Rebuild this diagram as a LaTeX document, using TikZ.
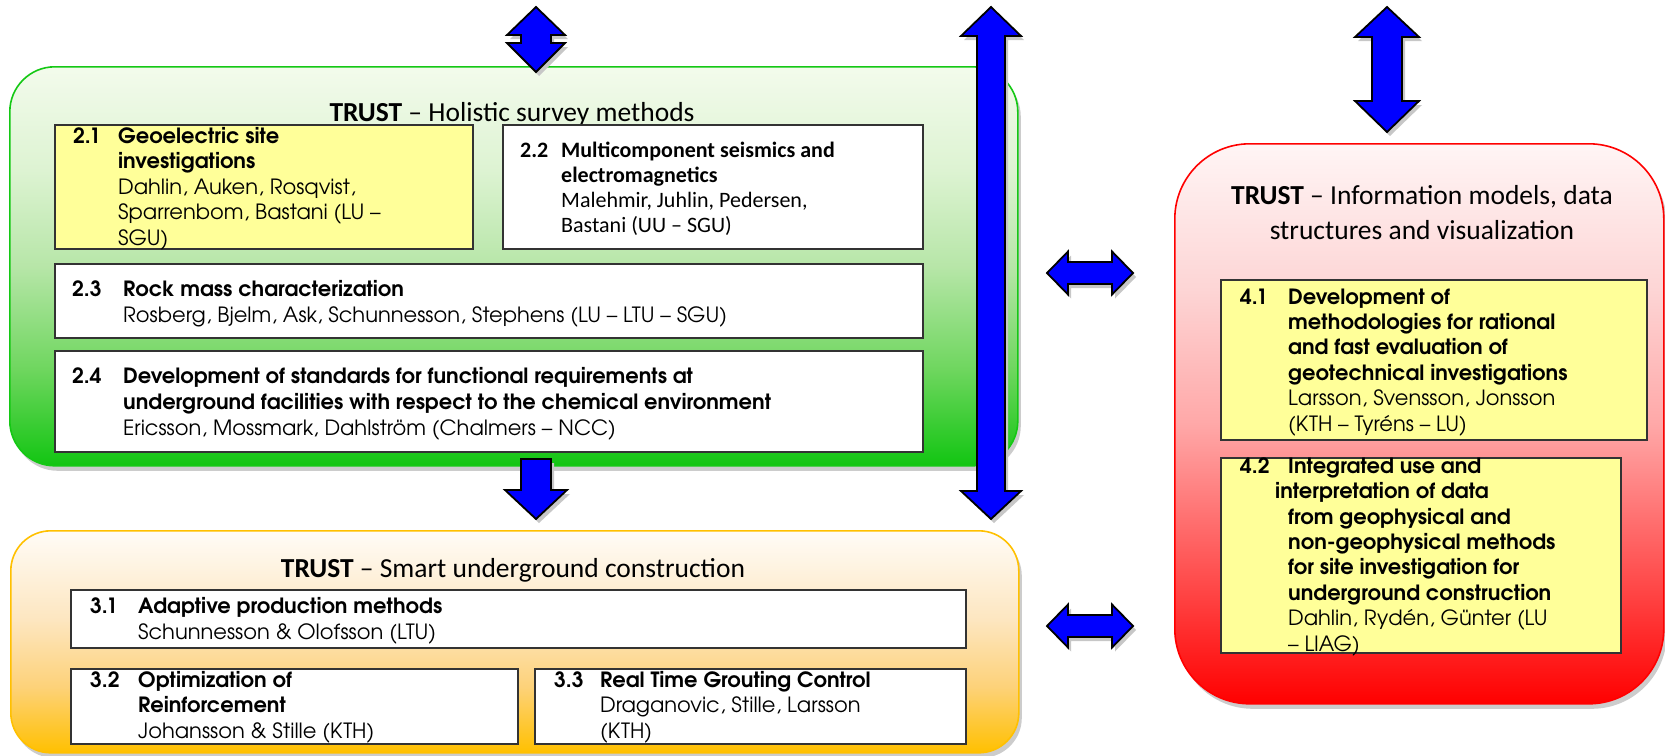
\documentclass[tikz,border=0pt]{standalone}
\usepackage{fontspec}
\usetikzlibrary{shadows}
\newfontfamily\calfont{Carlito}
\newfontfamily\gothfont{TeX Gyre Adventor}
\definecolor{arrowblue}{RGB}{0,0,255}
\definecolor{boxyellow}{RGB}{255,255,153}
\definecolor{grborder}{RGB}{20,200,20}
\definecolor{orborder}{RGB}{255,192,0}
\definecolor{rdborder}{RGB}{255,0,0}
\definecolor{gbot}{RGB}{18,197,18}
\definecolor{gm1}{RGB}{110,214,94}
\definecolor{gm2}{RGB}{183,230,168}
\definecolor{gm3}{RGB}{221,243,210}
\definecolor{gtop}{RGB}{243,251,236}
\definecolor{obot}{RGB}{255,192,0}
\definecolor{om1}{RGB}{253,210,122}
\definecolor{om2}{RGB}{253,230,192}
\definecolor{otop}{RGB}{255,252,247}
\definecolor{rbot}{RGB}{255,0,0}
\definecolor{rm1}{RGB}{255,69,69}
\definecolor{rm2}{RGB}{255,168,168}
\definecolor{rm3}{RGB}{253,213,213}
\definecolor{rtop}{RGB}{255,245,245}
\pgfdeclareverticalshading{greenshade}{100bp}{color(0bp)=(gbot); color(25bp)=(gbot); color(37bp)=(gm1); color(50bp)=(gm2); color(62bp)=(gm3); color(75bp)=(gtop); color(100bp)=(gtop)}
\pgfdeclareverticalshading{orangeshade}{100bp}{color(0bp)=(obot); color(25bp)=(obot); color(40bp)=(om1); color(55bp)=(om2); color(75bp)=(otop); color(100bp)=(otop)}
\pgfdeclareverticalshading{redshade}{100bp}{color(0bp)=(rbot); color(25bp)=(rbot); color(35bp)=(rm1); color(50bp)=(rm2); color(62bp)=(rm3); color(75bp)=(rtop); color(100bp)=(rtop)}
\tikzset{
  barrow/.style={draw=black, line width=1.8pt, fill=arrowblue, line join=miter,
    drop shadow={shadow xshift=3pt, shadow yshift=-4pt, fill=black!22, opacity=1}},
  bigbox/.style={rounded corners=#1, line width=1.6pt, anchor=north west, inner sep=0,
    drop shadow={shadow xshift=3pt, shadow yshift=-5pt, fill=black!20, opacity=1}},
  subbox/.style={draw=black!80, line width=1.6pt, inner sep=0, anchor=north west},
  num/.style={anchor=base west, inner sep=0, font=\gothfont\bfseries\fontsize{21}{26}\selectfont},
  txt/.style={anchor=base west, inner sep=0, align=left, font=\gothfont\fontsize{21}{#1}\selectfont},
  txt/.default=26,
  cnum/.style={anchor=base west, inner sep=0, font=\calfont\bfseries\fontsize{22}{25}\selectfont},
  ctxt/.style={anchor=base west, inner sep=0, align=left, font=\calfont\fontsize{22}{25}\selectfont},
  ttl/.style={anchor=base, inner sep=0, align=center, font=\calfont\fontsize{27.5}{35}\selectfont},
}
\begin{document}
\begin{tikzpicture}[x=1pt,y=-1pt]
\useasboundingbox (0,0) rectangle (1665,755);
% big containers
\node[bigbox=45pt, draw=grborder, shading=greenshade, minimum width=1008pt, minimum height=399pt] (green) at (9,66) {};
\node[bigbox=40pt, draw=orborder, shading=orangeshade, minimum width=1008pt, minimum height=222pt] (orange) at (10,530) {};
\node[bigbox=75pt, draw=rdborder, shading=redshade, minimum width=489pt, minimum height=560pt] (red) at (1174,143) {};
% titles (base = last line)
\node[ttl] (gtitle) at (512,121) {\textbf{TRUST} – Holistic survey methods};
\node[ttl] (otitle) at (513,577) {\textbf{TRUST} – Smart underground construction};
\node[ttl] (rtitle) at (1422,239) {\textbf{TRUST} – Information models, data\\structures and visualization};
% green sub boxes
\node[subbox, fill=boxyellow, minimum width=418pt, minimum height=124pt] (b21) at (54,124) {};
\node[subbox, fill=white, minimum width=420pt, minimum height=124pt] (b22) at (502,124) {};
\node[subbox, fill=white, minimum width=868pt, minimum height=74pt] (b23) at (54,263) {};
\node[subbox, fill=white, minimum width=868pt, minimum height=101pt] (b24) at (54,350) {};
\node[num] (n21) at (73,143) {2.1};
\node[txt=25.5] (t21) at (118,245) {\textbf{Geoelectric site}\\\textbf{investigations}\\Dahlin, Auken, Rosqvist,\\Sparrenbom, Bastani (LU –\\SGU)};
\node[cnum] (n22) at (520,157) {2.2};
\node[ctxt] (t22) at (561,232) {\textbf{Multicomponent seismics and}\\\textbf{electromagnetics}\\Malehmir, Juhlin, Pedersen,\\Bastani (UU – SGU)};
\node[num] (n23) at (72,296) {2.3};
\node[txt] (t23) at (123,322) {\textbf{Rock mass characterization}\\Rosberg, Bjelm, Ask, Schunnesson, Stephens (LU – LTU – SGU)};
\node[num] (n24) at (72,383) {2.4};
\node[txt] (t24) at (123,435) {\textbf{Development of standards for functional requirements at}\\\textbf{underground facilities with respect to the chemical environment}\\Ericsson, Mossmark, Dahlström (Chalmers – NCC)};
% orange sub boxes
\node[subbox, fill=white, minimum width=895pt, minimum height=58pt] (b31) at (70,589) {};
\node[subbox, fill=white, minimum width=447pt, minimum height=75pt] (b32) at (70,668) {};
\node[subbox, fill=white, minimum width=431pt, minimum height=75pt] (b33) at (534,668) {};
\node[num] (n31) at (90,613) {3.1};
\node[txt] (t31) at (138,639) {\textbf{Adaptive production methods}\\Schunnesson \& Olofsson (LTU)};
\node[num] (n32) at (90,687) {3.2};
\node[txt=25.5] (t32) at (138,738) {\textbf{Optimization of}\\\textbf{Reinforcement}\\Johansson \& Stille (KTH)};
\node[num] (n33) at (554,687) {3.3};
\node[txt=25.5] (t33) at (600,738) {\textbf{Real Time Grouting Control}\\Draganovic, Stille, Larsson\\(KTH)};
% red sub boxes
\node[subbox, fill=boxyellow, minimum width=426pt, minimum height=160pt] (b41) at (1220,279) {};
\node[subbox, fill=boxyellow, minimum width=400pt, minimum height=195pt] (b42) at (1220,457) {};
\node[num] (n41) at (1240,304) {4.1};
\node[txt=25.4] (t41) at (1288,431) {\textbf{Development of}\\\textbf{methodologies for rational}\\\textbf{and fast evaluation of}\\\textbf{geotechnical investigations}\\Larsson, Svensson, Jonsson\\(KTH – Tyréns – LU)};
\node[num] (n42) at (1240,473) {4.2};
\node[num] (t42a) at (1288,473) {Integrated use and};
\node[num] (t42b) at (1275,498.5) {interpretation of data};
\node[txt=25.4] (t42c) at (1288,651) {\textbf{from geophysical and}\\\textbf{non-geophysical methods}\\\textbf{for site investigation for}\\\textbf{underground construction}\\Dahlin, Rydén, Günter (LU\\– LIAG)};
% block arrows
\draw[barrow] (536,7) -- (565,35) -- (551,35) -- (551,43) -- (565,43) -- (536,72) -- (507,43) -- (521,43) -- (521,35) -- (507,35) -- cycle;
\draw[barrow] (991,7) -- (1021,36) -- (1005,36) -- (1005,491) -- (1021,491) -- (991,519) -- (961,491) -- (977,491) -- (977,36) -- (961,36) -- cycle;
\draw[barrow] (1387,7) -- (1419,37) -- (1402,37) -- (1402,101) -- (1419,101) -- (1387,132) -- (1355,101) -- (1372,101) -- (1372,37) -- (1355,37) -- cycle;
\draw[barrow] (521,459) -- (551,459) -- (551,490) -- (567,490) -- (536,519) -- (505,490) -- (521,490) -- cycle;
\draw[barrow] (1047,273) -- (1068,251.5) -- (1068,262) -- (1112,262) -- (1112,251.5) -- (1133,273) -- (1112,294.5) -- (1112,284) -- (1068,284) -- (1068,294.5) -- cycle;
\draw[barrow] (1047,626) -- (1068,604.5) -- (1068,615) -- (1112,615) -- (1112,604.5) -- (1133,626) -- (1112,647.5) -- (1112,637) -- (1068,637) -- (1068,647.5) -- cycle;
\end{tikzpicture}
\end{document}
